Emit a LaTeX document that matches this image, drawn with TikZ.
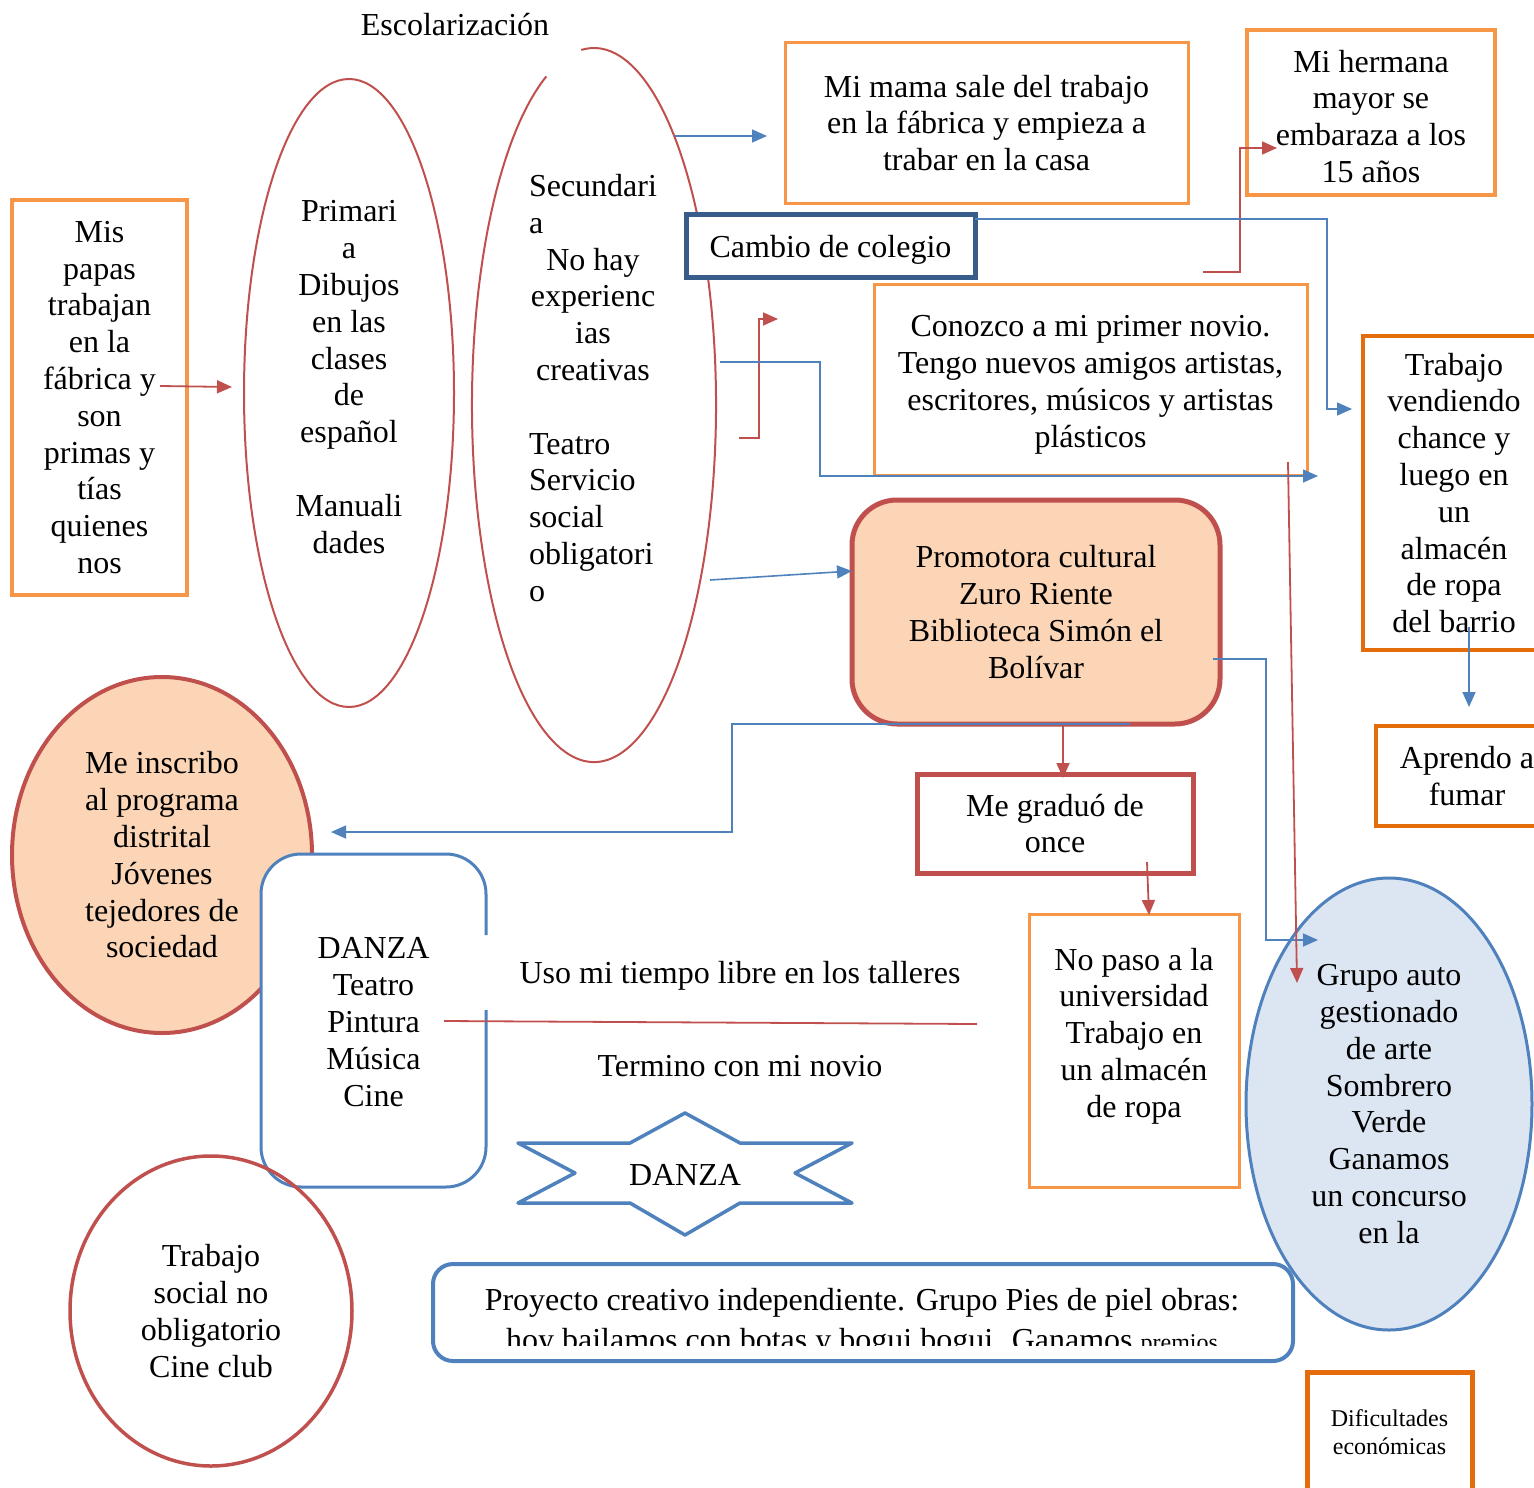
\documentclass[tikz,border=0pt]{standalone}
\usepackage{fontspec}
\setmainfont{Liberation Serif}
\usepackage{tikz}
\usetikzlibrary{shapes.geometric, arrows.meta, positioning, calc}

\definecolor{orangeL}{HTML}{F79646}
\definecolor{orangeD}{HTML}{E46C0A}
\definecolor{redB}{HTML}{C0504D}
\definecolor{blueB}{HTML}{4F81BD}
\definecolor{blueD}{HTML}{385D8A}
\definecolor{peach}{HTML}{FBD5B5}
\definecolor{paleblue}{HTML}{DCE6F2}

\newcommand{\centredrow}[1]{\multicolumn{1}{@{}c@{}}{#1}}
\newcommand{\toppad}{\rule{0pt}{30pt}}

\begin{document}
\begin{tikzpicture}[x=1pt, y=1pt,
  every node/.style={font=\fontsize{32}{36.8}\selectfont, inner sep=0pt, align=center},
  lbox/.style={draw=orangeL, fill=white, line width=#1},
  dbox/.style={draw=orangeD, fill=white, line width=4pt},
  rbox/.style={draw=redB, fill=white, line width=5pt},
  barrow/.style={draw=blueB, line width=1.6pt, -{Triangle[length=15pt,width=13pt]}},
  rarrow/.style={draw=redB, line width=1.8pt, -{Triangle[length=15pt,width=13pt]}},
  rline/.style={draw=redB, line width=1.8pt}
]
\useasboundingbox (0,0) rectangle (1534,-1488);

\node (escol) at (455,-25) {Escolarización};

% primaria
\node[ellipse, draw=redB, line width=2pt, minimum width=210, minimum height=628] (prim) at (349,-393) {};
\node (primtxt) at (349,-377) {Primari\\a\\Dibujos\\en las\\clases\\de\\español\\[36.8pt]Manuali\\dades};

% secundaria, open at the top
\draw[redB, line width=2pt] ([shift={(113:122 and 357)}]594,-405) arc[start angle=113, end angle=456, x radius=122, y radius=357];
\node (secu) at (593,-391.5) {\begin{tabular}{@{}l@{}}Secundari\\a\\\centredrow{No hay}\\\centredrow{experienc}\\\centredrow{ias}\\\centredrow{creativas}\\ \\Teatro\\Servicio\\social\\obligatori\\o\end{tabular}};

\node[ellipse, draw=redB, fill=peach, line width=4pt, minimum width=300, minimum height=356] (inscribo) at (162,-855) {Me inscribo\\al programa\\distrital\\Jóvenes\\tejedores de\\sociedad};

% danza box
\path[fill=white, rounded corners=40] (261,-854) rectangle (486,-1187);
\draw[blueB, line width=3pt, rounded corners=40] (486,-935) -- (486,-854) -- (261,-854) -- (261,-1187) -- (486,-1187) -- (486,-1010);
\node (danza) at (373.5,-1022) {DANZA\\Teatro\\Pintura\\Música\\Cine};

\node[ellipse, draw=redB, line width=3.5pt, minimum width=282, minimum height=310] (social) at (211,-1311) {Trabajo\\social no\\obligatorio\\Cine club};

% boxes
\node[lbox=4.5pt, minimum width=175, minimum height=395] (papas) at (99.5,-397.5) {Mis\\papas\\trabajan\\en la\\fábrica y\\son\\primas y\\tías\\quienes\\nos};
\node[lbox=3pt, minimum width=403, minimum height=160] (mama) at (986.5,-123) {Mi mama sale del trabajo\\en la fábrica y empieza a\\trabar en la casa};
\node[lbox=4pt, minimum width=248, minimum height=165] (hermana) at (1371,-112.5) {\toppad Mi hermana\\mayor se\\embaraza a los\\15 años};
\node[draw=blueD, fill=white, line width=5pt, minimum width=289, minimum height=63] (cambio) at (830.5,-245.5) {\toppad Cambio de colegio};
\node[lbox=3pt, minimum width=433, minimum height=191] (novio) at (1090.5,-379.5) {\rule{0pt}{32pt}Conozco a mi primer novio.\\Tengo nuevos amigos artistas,\\escritores, músicos y artistas\\plásticos};
\node[dbox, minimum width=182, minimum height=314] (chance) at (1454,-493) {Trabajo\\vendiendo\\chance y\\luego en\\un\\almacén\\de ropa\\del barrio};
\node[dbox, minimum width=182, minimum height=100] (fumar) at (1467,-776) {Aprendo a\\fumar};
\node[draw=redB, fill=peach, line width=5pt, rounded corners=45, minimum width=368, minimum height=224] (promo) at (1036,-612) {Promotora cultural\\Zuro Riente\\Biblioteca Simón el\\Bolívar};
\node[rbox, minimum width=276, minimum height=99] (graduo) at (1055,-823.5) {Me graduó de\\once};
\node[lbox=3pt, minimum width=210, minimum height=273] (nopaso) at (1134,-1050.5) {};
\node (nopasotxt) at (1134,-1036) {No paso a la\\universidad\\Trabajo en\\un almacén\\de ropa};

\node[ellipse, draw=blueB, fill=paleblue, line width=3pt, minimum width=286, minimum height=452] (grupo) at (1389,-1104) {Grupo auto\\gestionado\\de arte\\Sombrero\\Verde\\Ganamos\\un concurso\\en la};

\node[draw=blueB, fill=white, line width=4pt, rounded corners=20, minimum width=860, minimum height=97] (proyecto) at (863,-1312.5) {};
\node[anchor=base] (proy1) at (862,-1310) {Proyecto creativo independiente. Grupo Pies de piel obras:};
\begin{scope}
  \clip (440,-1270) rectangle (1286,-1345);
  \node[anchor=base] (proy2) at (862,-1350) {hoy bailamos con botas y bogui bogui. Ganamos {\fontsize{24}{27.6}\selectfont premios}};
\end{scope}

\node (uso) at (740,-976) {Uso mi tiempo libre en los talleres};
\node (termino) at (740,-1066) {Termino con mi novio};

% star
\draw[blueB, line width=3.5pt, line join=round] (518,-1143) -- (630,-1143) -- (685,-1113) -- (740,-1143) -- (852,-1143) -- (795,-1173) -- (852,-1203) -- (740,-1203) -- (685,-1235) -- (630,-1203) -- (518,-1203) -- (575,-1173) -- cycle;
\node (danzastar) at (685,-1175) {DANZA};

\node[draw=orangeD, fill=white, line width=5pt, minimum width=165, minimum height=120, font=\fontsize{24}{27.6}\selectfont] (dificult) at (1389.5,-1432) {Dificultades\\económicas};

% connector ends
\coordinate (papasout) at (160,-386);
\coordinate (primin) at (232,-387);
\coordinate (secuA) at (675,-136);
\coordinate (mamain) at (767,-136);
\coordinate (secuB) at (739,-438);
\coordinate (secuBup) at (759,-319);
\coordinate (secuBend) at (778,-319);
\coordinate (secuC) at (720,-362);
\coordinate (secuCbend) at (820,-362);
\coordinate (novioin) at (1318,-476);
\coordinate (secuD) at (710,-580);
\coordinate (promoin) at (852,-571);
\coordinate (novioA) at (1203,-272);
\coordinate (hermup) at (1240,-148);
\coordinate (hermin) at (1277,-148);
\coordinate (cambioout) at (975,-219);
\coordinate (chanceup) at (1327,-409);
\coordinate (chancein) at (1352,-409);
\coordinate (chanceout) at (1469,-627);
\coordinate (fumarin) at (1469,-707);
\coordinate (promoA) at (1063,-724);
\coordinate (graduoin) at (1063,-778);
\coordinate (promoB) at (1130,-724);
\coordinate (promoBdown) at (732,-832);
\coordinate (inscriboin) at (331,-832);
\coordinate (promoC) at (1213,-659);
\coordinate (grupodown) at (1266,-940);
\coordinate (grupoin) at (1318,-940);
\coordinate (novioB) at (1288,-462);
\coordinate (grupoinB) at (1297,-983);
\coordinate (graduoout) at (1147,-862);
\coordinate (nopasoin) at (1149,-915);
\coordinate (danzaout) at (444,-1021);
\coordinate (lineend) at (977,-1024);

% connectors
\draw[rarrow] (papasout) -- (primin);
\draw[barrow] (secuA) -- (mamain);
\draw[rarrow] (secuB) -| (secuBup) -- (secuBend);
\draw[barrow] (secuC) -- (secuCbend) |- (novioin);
\draw[barrow] (secuD) -- (promoin);
\draw[rarrow] (novioA) -| (hermup) -- (hermin);
\draw[barrow] (cambioout) -| (chanceup) -- (chancein);
\draw[barrow] (chanceout) -- (fumarin);
\draw[rarrow] (promoA) -- (graduoin);
\draw[barrow] (promoB) -| (promoBdown) -- (inscriboin);
\draw[barrow] (promoC) -| (grupodown) -- (grupoin);
\draw[rarrow] (novioB) -- (grupoinB);
\draw[rarrow] (graduoout) -- (nopasoin);
\draw[rline] (danzaout) -- (lineend);
\end{tikzpicture}
\end{document}
